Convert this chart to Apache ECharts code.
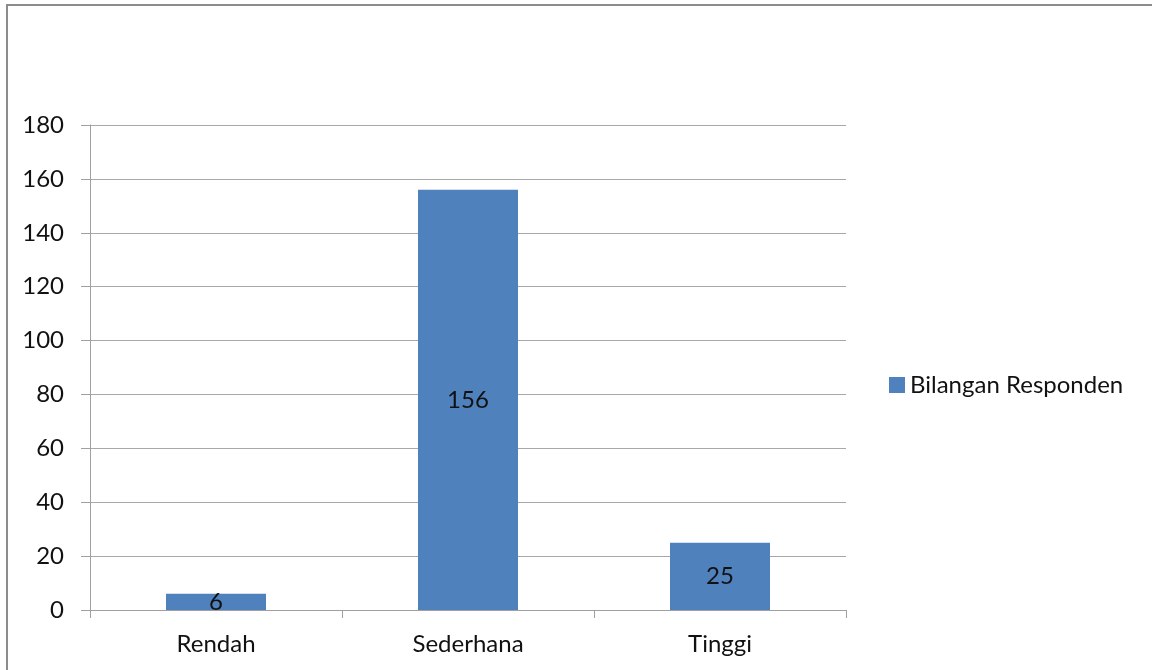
<!DOCTYPE html>
<html>
<head>
<meta charset="utf-8">
<script src="https://cdn.jsdelivr.net/npm/echarts@6/dist/echarts.min.js"></script>
<style>
  html, body { margin: 0; padding: 0; background: #fff; }
  #chart { width: 1152px; height: 670px; }
</style>
</head>
<body>
<div id="chart"></div>
<script>
// data
const categories = ['Rendah', 'Sederhana', 'Tinggi'];
const respondents = [6, 156, 25];
const seriesName = 'Bilangan Responden';

const chart = echarts.init(document.getElementById('chart'));
const font = 'Lato, "Open Sans", sans-serif';
const fs = 24;

chart.setOption({
  backgroundColor: '#fff',
  animation: false,
  // outer chart frame (only top & left edges visible in the picture)
  graphic: [{
    type: 'rect',
    shape: { x: 7, y: 5, width: 1200, height: 720 },
    style: { fill: 'none', stroke: '#8c8c8c', lineWidth: 2 },
    silent: true
  }],
  grid: { left: 90, right: 306, top: 125, bottom: 60, containLabel: false },
  legend: {
    data: [seriesName],
    left: 889,
    top: 373,
    padding: 0,
    itemWidth: 16,
    itemHeight: 16,
    icon: 'rect',
    textStyle: { fontFamily: font, fontSize: fs, color: '#111' }
  },
  xAxis: {
    type: 'category',
    data: categories,
    axisLine: { lineStyle: { color: '#a0a0a0', width: 1 } },
    axisTick: { show: true, length: 8, lineStyle: { color: '#a0a0a0' } },
    axisLabel: { fontFamily: font, fontSize: fs, color: '#111', margin: 22 }
  },
  yAxis: {
    type: 'value',
    min: 0,
    max: 180,
    interval: 20,
    axisLine: { show: true, lineStyle: { color: '#a0a0a0', width: 1 } },
    axisTick: { show: true, length: 9, lineStyle: { color: '#a0a0a0' } },
    axisLabel: { fontFamily: font, fontSize: fs, color: '#111', margin: 26 },
    splitLine: { lineStyle: { color: '#a8a8a8', width: 1 } }
  },
  series: [{
    name: seriesName,
    type: 'bar',
    data: respondents,
    barWidth: 100,
    itemStyle: { color: '#4f81bd' },
    label: {
      show: true,
      position: 'inside',
      fontFamily: font,
      fontSize: fs,
      color: '#111'
    }
  }]
});
</script>
</body>
</html>
